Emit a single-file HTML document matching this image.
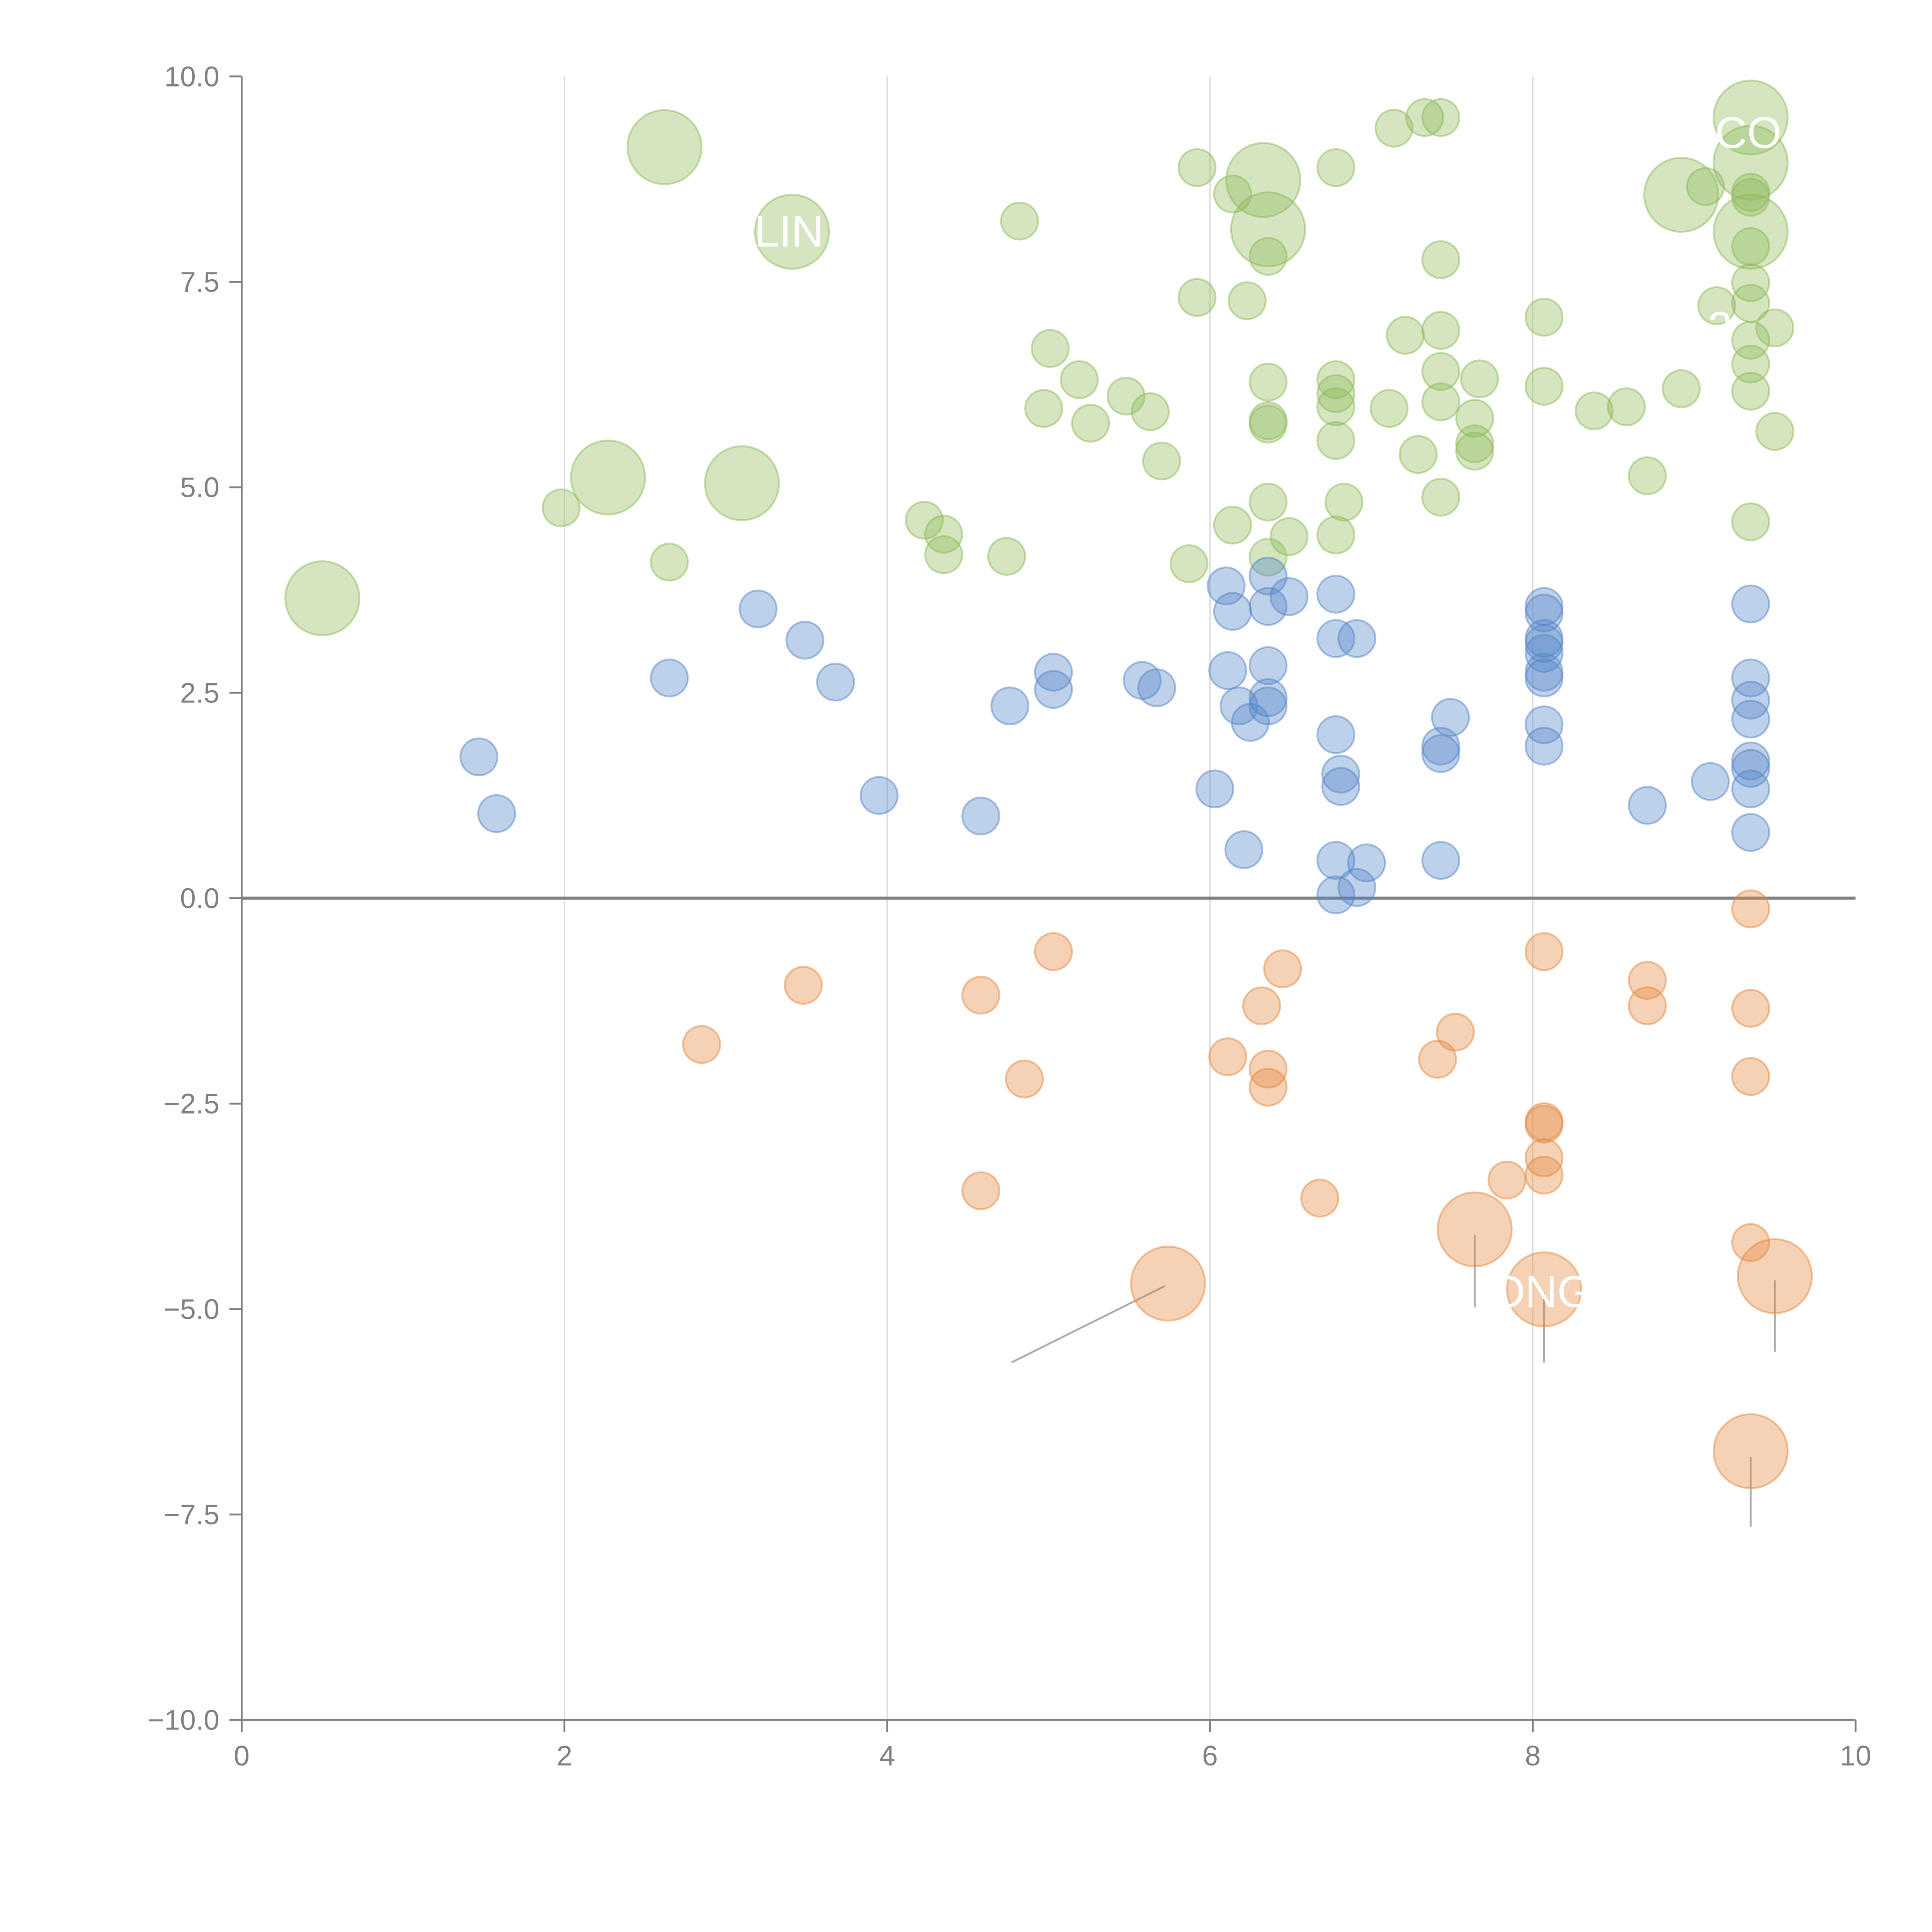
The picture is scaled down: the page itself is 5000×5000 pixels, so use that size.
<!DOCTYPE html>
<html><head><meta charset="utf-8"><style>
html,body{margin:0;padding:0;background:#fff;}
svg{display:block;}
text{font-family:"Liberation Sans",sans-serif;}
</style></head><body>
<svg id="chart" width="5000" height="5000" viewBox="0 0 1567 1567" xmlns="http://www.w3.org/2000/svg"></svg>
<script>
const xTicks=[0,2,4,6,8,10];
const yTicks=[-10,-7.5,-5,-2.5,0,2.5,5,7.5,10];
const greenX=[1.98,2.65,4.23,4.35,4.35,4.74,4.82,5.01,4.97,5.19,5.26,5.48,5.63,5.7,5.87,5.92,5.92,6.14,6.14,6.23,6.36,6.36,6.36,6.36,6.36,6.36,6.49,6.78,6.78,6.78,6.78,6.78,6.78,6.83,7.11,7.14,7.21,7.29,7.33,7.43,7.43,7.43,7.43,7.43,7.43,7.64,7.64,7.64,7.67,8.07,8.07,8.38,8.58,8.71,8.92,9.07,9.14,9.35,9.35,9.35,9.35,9.35,9.35,9.35,9.35,9.35,9.5,9.5];
const greenY=[4.75,4.09,4.6,4.43,4.18,4.16,8.24,6.69,5.96,6.31,5.78,6.11,5.92,5.32,4.07,8.89,7.31,8.57,4.54,7.27,7.81,6.28,5.81,5.77,4.82,4.15,4.4,8.89,6.31,6.14,5.98,5.57,4.42,4.82,5.96,9.37,6.85,5.4,9.5,9.5,7.77,6.91,6.41,6.04,4.88,5.84,5.53,5.44,6.32,7.07,6.23,5.93,5.98,5.14,6.2,8.66,7.21,8.59,8.53,7.93,7.49,7.24,6.79,6.5,6.17,4.58,6.94,5.68];
const greenBigX=[0.5,2.27,2.62,3.1,3.41,6.33,6.36,8.92,9.35,9.35,9.35];
const greenBigY=[3.65,5.12,9.14,5.05,8.11,8.74,8.14,8.56,9.5,8.95,8.11];
const blueX=[1.47,1.58,2.65,3.2,3.49,3.68,3.95,4.58,4.76,5.03,5.03,5.58,5.67,6.03,6.1,6.11,6.14,6.18,6.21,6.25,6.36,6.36,6.36,6.36,6.36,6.49,6.78,6.78,6.78,6.81,6.81,6.78,6.78,6.91,6.91,6.97,7.43,7.43,7.43,7.49,8.07,8.07,8.07,8.07,8.07,8.07,8.07,8.07,8.07,8.71,9.1,9.35,9.35,9.35,9.35,9.35,9.35,9.35,9.35];
const blueY=[1.72,1.03,2.68,3.52,3.14,2.63,1.25,1.0,2.34,2.75,2.54,2.65,2.56,1.33,3.8,2.77,3.49,2.34,0.59,2.14,3.92,3.55,2.83,2.44,2.34,3.67,3.7,3.16,1.99,1.51,1.36,0.46,0.04,3.16,0.13,0.43,1.85,1.76,0.46,2.2,3.55,3.47,3.16,3.1,2.98,2.75,2.68,2.11,1.85,1.13,1.42,3.58,2.68,2.41,2.18,1.67,1.58,1.33,0.8];
const orangeX=[2.85,3.48,4.58,4.58,4.85,5.03,6.11,6.32,6.36,6.36,6.45,6.68,7.41,7.52,7.84,8.07,8.07,8.07,8.07,8.07,8.71,8.71,9.35,9.35,9.35,9.35];
const orangeY=[-1.78,-1.06,-1.18,-3.56,-2.2,-0.65,-1.93,-1.31,-2.08,-2.3,-0.86,-3.65,-1.96,-1.63,-3.43,-0.65,-2.72,-2.75,-3.16,-3.37,-1.0,-1.31,-0.13,-1.34,-2.17,-4.19];
const orangeBigX=[5.74,7.64,8.07,9.5,9.35];
const orangeBigY=[-4.69,-4.03,-4.76,-4.6,-6.73];
const NS="http://www.w3.org/2000/svg";
const svg=document.getElementById('chart');
const X0=196,X1=1505,Y0=1395,Y1=62;
function sx(v){return X0+(v-0)/(10-0)*(X1-X0);}
function sy(v){return Y0-(v+10)/20*(Y0-Y1);}
function mk(tag,at){const e=document.createElementNS(NS,tag);for(const k in at)e.setAttribute(k,at[k]);svg.appendChild(e);return e;}
xTicks.slice(1,5).forEach(t=>{
 const g=mk('line',{x1:sx(t),x2:sx(t),y1:Y1,y2:Y0,stroke:'#d8d8d8','stroke-width':1});
 
 
});
const z=mk('line',{x1:X0,x2:X1,y1:sy(0),y2:sy(0),stroke:'#808080','stroke-width':2.5});


const ya=mk('line',{x1:X0,x2:X0,y1:Y1,y2:Y0,stroke:'#808080','stroke-width':1.5});


const xa=mk('line',{x1:X0,x2:X1,y1:Y0,y2:Y0,stroke:'#808080','stroke-width':1.5});


yTicks.forEach(t=>{
 const l=mk('line',{x1:X0-10,x2:X0,y1:sy(t),y2:sy(t),stroke:'#808080','stroke-width':1.5});
 
 
 const tx=mk('text',{x:X0-18,y:sy(t)+8,'text-anchor':'end','font-size':23,fill:'#808080'});
 tx.textContent=(t<0?'\u2212':'')+Math.abs(t).toFixed(1);
 
 
});
xTicks.forEach(t=>{
 const l=mk('line',{x1:sx(t),x2:sx(t),y1:Y0,y2:Y0+10,stroke:'#808080','stroke-width':1.5});
 
 
 const tx=mk('text',{x:sx(t),y:Y0+37,'text-anchor':'middle','font-size':23,fill:'#808080'});
 tx.textContent=String(t);
 
 
});
const leaders=[[4.77,-5.65,5.72,-4.72],[7.64,-4.1,7.64,-4.98],[8.07,-4.8,8.07,-5.65],[9.5,-4.65,9.5,-5.52],[9.35,-6.8,9.35,-7.65]];
leaders.forEach(a=>{
 const l=mk('line',{x1:sx(a[0]),y1:sy(a[1]),x2:sx(a[2]),y2:sy(a[3]),stroke:'#aaaaaa','stroke-width':1.5});
 
 
});
function series(xs,ys,r,fill,name){
 xs.forEach((x,i)=>{
  const c=mk('circle',{cx:sx(x),cy:sy(ys[i]),r:r,fill:fill,'fill-opacity':0.38,stroke:fill,'stroke-opacity':0.5,'stroke-width':1.5});
  
  
 });
}
series(greenX,greenY,15,'#8fba5a','green-point');
series(greenBigX,greenBigY,30,'#8fba5a','green-bubble');
series(blueX,blueY,15,'#5585c8','blue-point');
series(orangeX,orangeY,15,'#e6883e','orange-point');
series(orangeBigX,orangeBigY,30,'#e6883e','orange-bubble');
const labels=[[1418,120,'CO'],[640,200,'LIN'],[1250,1060,'ONG'],[1395,278,'2']];
labels.forEach(a=>{
 const t=mk('text',{x:a[0],y:a[1],'text-anchor':'middle','font-size':36,fill:'#ffffff'});
 t.textContent=a[2];
 
 
});
</script>
</body></html>
